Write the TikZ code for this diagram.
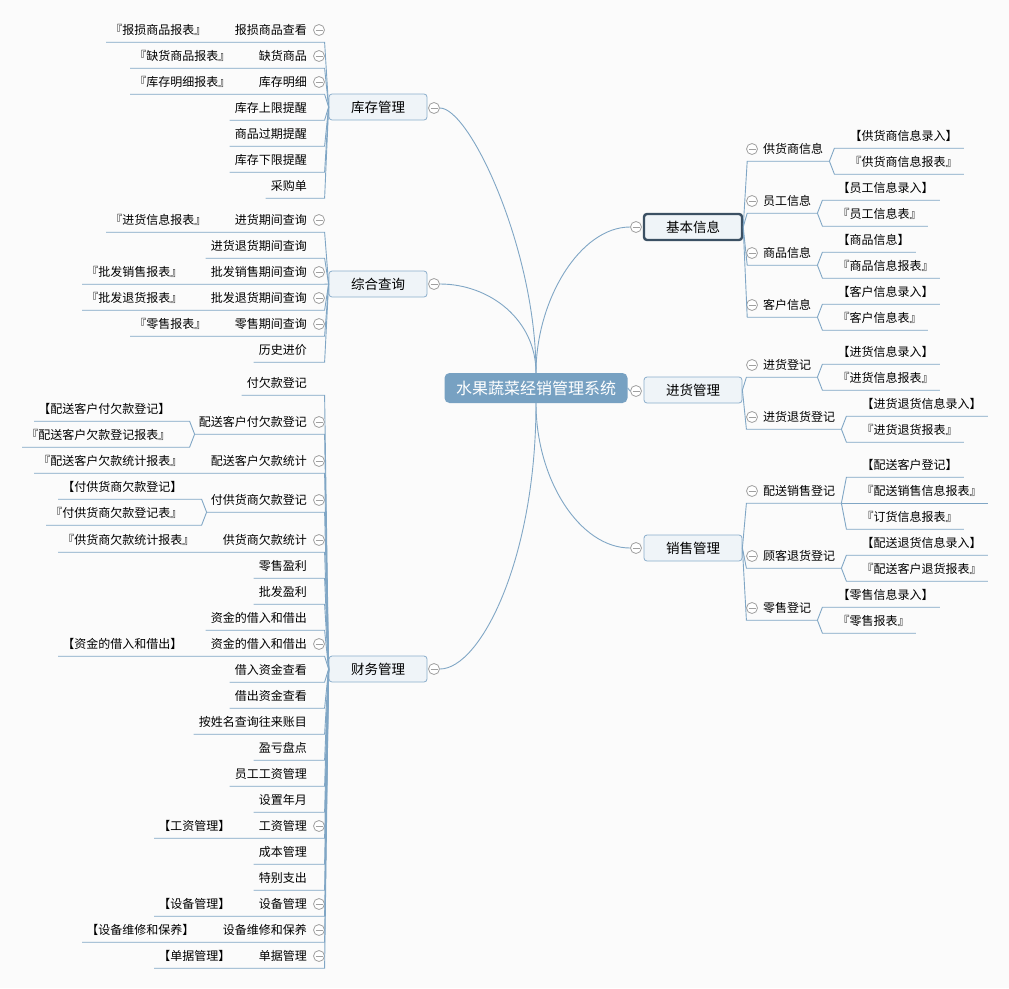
\documentclass[tikz,border=0pt]{standalone}
\usepackage{fontspec}
\setmainfont{Noto Sans CJK SC}
\usetikzlibrary{calc}
\definecolor{bgcol}{RGB}{251,251,251}
\definecolor{linkcol}{RGB}{128,166,197}
\definecolor{rootcol}{RGB}{119,161,194}
\definecolor{topicfill}{RGB}{239,244,248}
\definecolor{topicline}{RGB}{138,174,203}
\definecolor{selline}{RGB}{59,80,99}
\definecolor{foldcol}{RGB}{160,160,160}

\begin{document}
\begin{tikzpicture}[x=1pt, y=-1pt,
    link/.style={draw=linkcol, line width=0.9pt},
    root/.style={fill=rootcol, rounded corners=5pt, text=white, minimum width=183pt,
      minimum height=30pt, inner sep=0pt, font=\fontsize{16}{18}\selectfont},
    topic/.style={draw=topicline, fill=topicfill, rounded corners=3pt, minimum width=98pt,
      minimum height=26pt, inner sep=0pt, line width=0.8pt, font=\fontsize{13.5}{16}\selectfont},
    leaf/.style={inner xsep=0pt, inner ysep=6pt, text height=10pt, text depth=2pt,
      font=\fontsize{12}{14}\selectfont},
    fold/.style={circle, draw=foldcol, fill=white, line width=0.8pt, minimum size=11pt, inner sep=0pt,
      path picture={\draw[foldcol, line width=0.8pt] ([xshift=2pt]path picture bounding box.west)
        -- ([xshift=-2pt]path picture bounding box.east);}}]
    \pgfmathsetmacro{\lx}{307}
    \pgfmathsetmacro{\lf}{319}
    \pgfmathsetmacro{\rx}{763}
    \pgfmathsetmacro{\rf}{752}
    \fill[bgcol] (0,0) rectangle (1009,988);
    \useasboundingbox (0,0) rectangle (1009,988);
    % centre and main topics
    \node[root] (sys) at (536,388) {水果蔬菜经销管理系统};
    \node[topic] (kc) at (378,107) {库存管理};
    \node[topic] (zh) at (378,284) {综合查询};
    \node[topic] (cw) at (378,669) {财务管理};
    \node[topic, draw=selline, line width=2.4pt] (jb) at (693,227) {基本信息};
    \node[topic] (jh) at (693,390) {进货管理};
    \node[topic] (xs) at (693,548) {销售管理};
    \node[fold] (kcf) at (434,108) {};
    \node[fold] (zhf) at (434,284) {};
    \node[fold] (cwf) at (434,669) {};
    \node[fold] (jbf) at (636,227) {};
    \node[fold] (jhf) at (636,391) {};
    \node[fold] (xsf) at (636,548) {};
    \draw[link] (sys.north) .. controls (536,250) and (470,108) .. (kcf.east);
    \draw[link] (sys.north) .. controls (536,320) and (490,284) .. (zhf.east);
    \draw[link] (sys.north) .. controls (536,300) and (580,227) .. (jbf.west);
    \draw[link] (sys.east) -- (jhf.west);
    \draw[link] (sys.south) .. controls (536,480) and (580,548) .. (xsf.west);
    \draw[link] (sys.south) .. controls (536,560) and (480,669) .. (cwf.east);
    % 库存管理
    \node[leaf, anchor=east] (kc1) at (\lx,30) {报损商品查看};
    \node[leaf, anchor=east] (kc1a) at ($(kc1.west)+(-28,0)$) {『报损商品报表』};
    \node[fold] (kc1f) at (\lf,30) {};
    \node[leaf, anchor=east] (kc2) at (\lx,56) {缺货商品};
    \node[leaf, anchor=east] (kc2a) at ($(kc2.west)+(-28,0)$) {『缺货商品报表』};
    \node[fold] (kc2f) at (\lf,56) {};
    \node[leaf, anchor=east] (kc3) at (\lx,82) {库存明细};
    \node[leaf, anchor=east] (kc3a) at ($(kc3.west)+(-28,0)$) {『库存明细报表』};
    \node[fold] (kc3f) at (\lf,82) {};
    \node[leaf, anchor=east] (kc4) at (\lx,108) {库存上限提醒};
    \node[leaf, anchor=east] (kc5) at (\lx,134) {商品过期提醒};
    \node[leaf, anchor=east] (kc6) at (\lx,160) {库存下限提醒};
    \node[leaf, anchor=east] (kc7) at (\lx,186) {采购单};
    \draw[link] (kc.west) -- ([xshift=-4pt]kc.west |- kc1.south) -- ([xshift=-4pt]kc1a.south west);
    \draw[link] (kc.west) -- ([xshift=-4pt]kc.west |- kc2.south) -- ([xshift=-4pt]kc2a.south west);
    \draw[link] (kc.west) -- ([xshift=-4pt]kc.west |- kc3.south) -- ([xshift=-4pt]kc3a.south west);
    \draw[link] (kc.west) -- ([xshift=-4pt]kc.west |- kc4.south) -- ([xshift=-5pt]kc4.south west);
    \draw[link] (kc.west) -- ([xshift=-4pt]kc.west |- kc5.south) -- ([xshift=-5pt]kc5.south west);
    \draw[link] (kc.west) -- ([xshift=-4pt]kc.west |- kc6.south) -- ([xshift=-5pt]kc6.south west);
    \draw[link] (kc.west) -- ([xshift=-4pt]kc.west |- kc7.south) -- ([xshift=-5pt]kc7.south west);
    % 综合查询
    \node[leaf, anchor=east] (zh1) at (\lx,220) {进货期间查询};
    \node[leaf, anchor=east] (zh1a) at ($(zh1.west)+(-28,0)$) {『进货信息报表』};
    \node[fold] (zh1f) at (\lf,220) {};
    \node[leaf, anchor=east] (zh2) at (\lx,246) {进货退货期间查询};
    \node[leaf, anchor=east] (zh3) at (\lx,272) {批发销售期间查询};
    \node[leaf, anchor=east] (zh3a) at ($(zh3.west)+(-28,0)$) {『批发销售报表』};
    \node[fold] (zh3f) at (\lf,272) {};
    \node[leaf, anchor=east] (zh4) at (\lx,298) {批发退货期间查询};
    \node[leaf, anchor=east] (zh4a) at ($(zh4.west)+(-28,0)$) {『批发退货报表』};
    \node[fold] (zh4f) at (\lf,298) {};
    \node[leaf, anchor=east] (zh5) at (\lx,324) {零售期间查询};
    \node[leaf, anchor=east] (zh5a) at ($(zh5.west)+(-28,0)$) {『零售报表』};
    \node[fold] (zh5f) at (\lf,324) {};
    \node[leaf, anchor=east] (zh6) at (\lx,350) {历史进价};
    \draw[link] (zh.west) -- ([xshift=-4pt]zh.west |- zh1.south) -- ([xshift=-4pt]zh1a.south west);
    \draw[link] (zh.west) -- ([xshift=-4pt]zh.west |- zh2.south) -- ([xshift=-5pt]zh2.south west);
    \draw[link] (zh.west) -- ([xshift=-4pt]zh.west |- zh3.south) -- ([xshift=-4pt]zh3a.south west);
    \draw[link] (zh.west) -- ([xshift=-4pt]zh.west |- zh4.south) -- ([xshift=-4pt]zh4a.south west);
    \draw[link] (zh.west) -- ([xshift=-4pt]zh.west |- zh5.south) -- ([xshift=-4pt]zh5a.south west);
    \draw[link] (zh.west) -- ([xshift=-4pt]zh.west |- zh6.south) -- ([xshift=-5pt]zh6.south west);
    % 财务管理
    \node[leaf, anchor=east] (cw1) at (\lx,383) {付欠款登记};
    \node[leaf, anchor=east] (cw2) at (\lx,422) {配送客户付欠款登记};
    \node[leaf, anchor=east] (cw2a) at ($(cw2.west)+(-28,-13)$) {【配送客户付欠款登记】};
    \node[leaf, anchor=east] (cw2b) at ($(cw2.west)+(-28,13)$) {『配送客户欠款登记报表』};
    \node[fold] (cw2f) at (\lf,422) {};
    \node[leaf, anchor=east] (cw3) at (\lx,461) {配送客户欠款统计};
    \node[leaf, anchor=east] (cw3a) at ($(cw3.west)+(-28,0)$) {『配送客户欠款统计报表』};
    \node[fold] (cw3f) at (\lf,461) {};
    \node[leaf, anchor=east] (cw4) at (\lx,500) {付供货商欠款登记};
    \node[leaf, anchor=east] (cw4a) at ($(cw4.west)+(-28,-13)$) {【付供货商欠款登记】};
    \node[leaf, anchor=east] (cw4b) at ($(cw4.west)+(-28,13)$) {『付供货商欠款登记表』};
    \node[fold] (cw4f) at (\lf,500) {};
    \node[leaf, anchor=east] (cw5) at (\lx,540) {供货商欠款统计};
    \node[leaf, anchor=east] (cw5a) at ($(cw5.west)+(-28,0)$) {『供货商欠款统计报表』};
    \node[fold] (cw5f) at (\lf,540) {};
    \node[leaf, anchor=east] (cw6) at (\lx,566) {零售盈利};
    \node[leaf, anchor=east] (cw7) at (\lx,592) {批发盈利};
    \node[leaf, anchor=east] (cw8) at (\lx,618) {资金的借入和借出};
    \node[leaf, anchor=east] (cw9) at (\lx,644) {资金的借入和借出};
    \node[leaf, anchor=east] (cw9a) at ($(cw9.west)+(-28,0)$) {【资金的借入和借出】};
    \node[fold] (cw9f) at (\lf,644) {};
    \node[leaf, anchor=east] (cw10) at (\lx,670) {借入资金查看};
    \node[leaf, anchor=east] (cw11) at (\lx,696) {借出资金查看};
    \node[leaf, anchor=east] (cw12) at (\lx,722) {按姓名查询往来账目};
    \node[leaf, anchor=east] (cw13) at (\lx,748) {盈亏盘点};
    \node[leaf, anchor=east] (cw14) at (\lx,774) {员工工资管理};
    \node[leaf, anchor=east] (cw15) at (\lx,800) {设置年月};
    \node[leaf, anchor=east] (cw16) at (\lx,826) {工资管理};
    \node[leaf, anchor=east] (cw16a) at ($(cw16.west)+(-28,0)$) {【工资管理】};
    \node[fold] (cw16f) at (\lf,826) {};
    \node[leaf, anchor=east] (cw17) at (\lx,852) {成本管理};
    \node[leaf, anchor=east] (cw18) at (\lx,878) {特别支出};
    \node[leaf, anchor=east] (cw19) at (\lx,904) {设备管理};
    \node[leaf, anchor=east] (cw19a) at ($(cw19.west)+(-28,0)$) {【设备管理】};
    \node[fold] (cw19f) at (\lf,904) {};
    \node[leaf, anchor=east] (cw20) at (\lx,930) {设备维修和保养};
    \node[leaf, anchor=east] (cw20a) at ($(cw20.west)+(-28,0)$) {【设备维修和保养】};
    \node[fold] (cw20f) at (\lf,930) {};
    \node[leaf, anchor=east] (cw21) at (\lx,956) {单据管理};
    \node[leaf, anchor=east] (cw21a) at ($(cw21.west)+(-28,0)$) {【单据管理】};
    \node[fold] (cw21f) at (\lf,956) {};
    \draw[link] (cw.west) -- ([xshift=-4pt]cw.west |- cw1.south) -- ([xshift=-5pt]cw1.south west);
    \draw[link] (cw.west) -- ([xshift=-4pt]cw.west |- cw2.south) -- ([xshift=-4pt]cw2.south west) coordinate (cw2c);
    \draw[link] (cw2c) -- ([xshift=-9pt]cw2.south west |- cw2a.south) -- ([xshift=-4pt]cw2a.south west);
    \draw[link] (cw2c) -- ([xshift=-9pt]cw2.south west |- cw2b.south) -- ([xshift=-4pt]cw2b.south west);
    \draw[link] (cw.west) -- ([xshift=-4pt]cw.west |- cw3.south) -- ([xshift=-4pt]cw3a.south west);
    \draw[link] (cw.west) -- ([xshift=-4pt]cw.west |- cw4.south) -- ([xshift=-4pt]cw4.south west) coordinate (cw4c);
    \draw[link] (cw4c) -- ([xshift=-9pt]cw4.south west |- cw4a.south) -- ([xshift=-4pt]cw4a.south west);
    \draw[link] (cw4c) -- ([xshift=-9pt]cw4.south west |- cw4b.south) -- ([xshift=-4pt]cw4b.south west);
    \draw[link] (cw.west) -- ([xshift=-4pt]cw.west |- cw5.south) -- ([xshift=-4pt]cw5a.south west);
    \draw[link] (cw.west) -- ([xshift=-4pt]cw.west |- cw6.south) -- ([xshift=-5pt]cw6.south west);
    \draw[link] (cw.west) -- ([xshift=-4pt]cw.west |- cw7.south) -- ([xshift=-5pt]cw7.south west);
    \draw[link] (cw.west) -- ([xshift=-4pt]cw.west |- cw8.south) -- ([xshift=-5pt]cw8.south west);
    \draw[link] (cw.west) -- ([xshift=-4pt]cw.west |- cw9.south) -- ([xshift=-4pt]cw9a.south west);
    \draw[link] (cw.west) -- ([xshift=-4pt]cw.west |- cw10.south) -- ([xshift=-5pt]cw10.south west);
    \draw[link] (cw.west) -- ([xshift=-4pt]cw.west |- cw11.south) -- ([xshift=-5pt]cw11.south west);
    \draw[link] (cw.west) -- ([xshift=-4pt]cw.west |- cw12.south) -- ([xshift=-5pt]cw12.south west);
    \draw[link] (cw.west) -- ([xshift=-4pt]cw.west |- cw13.south) -- ([xshift=-5pt]cw13.south west);
    \draw[link] (cw.west) -- ([xshift=-4pt]cw.west |- cw14.south) -- ([xshift=-5pt]cw14.south west);
    \draw[link] (cw.west) -- ([xshift=-4pt]cw.west |- cw15.south) -- ([xshift=-5pt]cw15.south west);
    \draw[link] (cw.west) -- ([xshift=-4pt]cw.west |- cw16.south) -- ([xshift=-4pt]cw16a.south west);
    \draw[link] (cw.west) -- ([xshift=-4pt]cw.west |- cw17.south) -- ([xshift=-5pt]cw17.south west);
    \draw[link] (cw.west) -- ([xshift=-4pt]cw.west |- cw18.south) -- ([xshift=-5pt]cw18.south west);
    \draw[link] (cw.west) -- ([xshift=-4pt]cw.west |- cw19.south) -- ([xshift=-4pt]cw19a.south west);
    \draw[link] (cw.west) -- ([xshift=-4pt]cw.west |- cw20.south) -- ([xshift=-4pt]cw20a.south west);
    \draw[link] (cw.west) -- ([xshift=-4pt]cw.west |- cw21.south) -- ([xshift=-4pt]cw21a.south west);
    % 基本信息
    \node[leaf, anchor=west] (jb1) at (\rx,149) {供货商信息};
    \node[leaf, anchor=west] (jb1a) at ($(jb1.east)+(26,-13)$) {【供货商信息录入】};
    \node[leaf, anchor=west] (jb1b) at ($(jb1.east)+(26,13)$) {『供货商信息报表』};
    \node[fold] (jb1f) at (\rf,149) {};
    \node[leaf, anchor=west] (jb2) at (\rx,201) {员工信息};
    \node[leaf, anchor=west] (jb2a) at ($(jb2.east)+(26,-13)$) {【员工信息录入】};
    \node[leaf, anchor=west] (jb2b) at ($(jb2.east)+(26,13)$) {『员工信息表』};
    \node[fold] (jb2f) at (\rf,201) {};
    \node[leaf, anchor=west] (jb3) at (\rx,253) {商品信息};
    \node[leaf, anchor=west] (jb3a) at ($(jb3.east)+(26,-13)$) {【商品信息】};
    \node[leaf, anchor=west] (jb3b) at ($(jb3.east)+(26,13)$) {『商品信息报表』};
    \node[fold] (jb3f) at (\rf,253) {};
    \node[leaf, anchor=west] (jb4) at (\rx,305) {客户信息};
    \node[leaf, anchor=west] (jb4a) at ($(jb4.east)+(26,-13)$) {【客户信息录入】};
    \node[leaf, anchor=west] (jb4b) at ($(jb4.east)+(26,13)$) {『客户信息表』};
    \node[fold] (jb4f) at (\rf,305) {};
    \draw[link] (jb.east) -- ([xshift=4pt]jb.east |- jb1.south) -- ([xshift=6pt]jb1.south east) coordinate (jb1c);
    \draw[link] (jb1c) -- ([xshift=11pt]jb1.south east |- jb1a.south) -- ([xshift=6pt]jb1a.south east);
    \draw[link] (jb1c) -- ([xshift=11pt]jb1.south east |- jb1b.south) -- ([xshift=6pt]jb1b.south east);
    \draw[link] (jb.east) -- ([xshift=4pt]jb.east |- jb2.south) -- ([xshift=6pt]jb2.south east) coordinate (jb2c);
    \draw[link] (jb2c) -- ([xshift=11pt]jb2.south east |- jb2a.south) -- ([xshift=6pt]jb2a.south east);
    \draw[link] (jb2c) -- ([xshift=11pt]jb2.south east |- jb2b.south) -- ([xshift=6pt]jb2b.south east);
    \draw[link] (jb.east) -- ([xshift=4pt]jb.east |- jb3.south) -- ([xshift=6pt]jb3.south east) coordinate (jb3c);
    \draw[link] (jb3c) -- ([xshift=11pt]jb3.south east |- jb3a.south) -- ([xshift=6pt]jb3a.south east);
    \draw[link] (jb3c) -- ([xshift=11pt]jb3.south east |- jb3b.south) -- ([xshift=6pt]jb3b.south east);
    \draw[link] (jb.east) -- ([xshift=4pt]jb.east |- jb4.south) -- ([xshift=6pt]jb4.south east) coordinate (jb4c);
    \draw[link] (jb4c) -- ([xshift=11pt]jb4.south east |- jb4a.south) -- ([xshift=6pt]jb4a.south east);
    \draw[link] (jb4c) -- ([xshift=11pt]jb4.south east |- jb4b.south) -- ([xshift=6pt]jb4b.south east);
    % 进货管理
    \node[leaf, anchor=west] (jh1) at (\rx,365) {进货登记};
    \node[leaf, anchor=west] (jh1a) at ($(jh1.east)+(26,-13)$) {【进货信息录入】};
    \node[leaf, anchor=west] (jh1b) at ($(jh1.east)+(26,13)$) {『进货信息报表』};
    \node[fold] (jh1f) at (\rf,365) {};
    \node[leaf, anchor=west] (jh2) at (\rx,417) {进货退货登记};
    \node[leaf, anchor=west] (jh2a) at ($(jh2.east)+(26,-13)$) {【进货退货信息录入】};
    \node[leaf, anchor=west] (jh2b) at ($(jh2.east)+(26,13)$) {『进货退货报表』};
    \node[fold] (jh2f) at (\rf,417) {};
    \draw[link] (jh.east) -- ([xshift=4pt]jh.east |- jh1.south) -- ([xshift=6pt]jh1.south east) coordinate (jh1c);
    \draw[link] (jh1c) -- ([xshift=11pt]jh1.south east |- jh1a.south) -- ([xshift=6pt]jh1a.south east);
    \draw[link] (jh1c) -- ([xshift=11pt]jh1.south east |- jh1b.south) -- ([xshift=6pt]jh1b.south east);
    \draw[link] (jh.east) -- ([xshift=4pt]jh.east |- jh2.south) -- ([xshift=6pt]jh2.south east) coordinate (jh2c);
    \draw[link] (jh2c) -- ([xshift=11pt]jh2.south east |- jh2a.south) -- ([xshift=6pt]jh2a.south east);
    \draw[link] (jh2c) -- ([xshift=11pt]jh2.south east |- jh2b.south) -- ([xshift=6pt]jh2b.south east);
    % 销售管理
    \node[leaf, anchor=west] (xs1) at (\rx,491) {配送销售登记};
    \node[leaf, anchor=west] (xs1a) at ($(xs1.east)+(26,-26)$) {【配送客户登记】};
    \node[leaf, anchor=west] (xs1b) at ($(xs1.east)+(26,0)$) {『配送销售信息报表』};
    \node[leaf, anchor=west] (xs1c) at ($(xs1.east)+(26,26)$) {『订货信息报表』};
    \node[fold] (xs1f) at (\rf,491) {};
    \node[leaf, anchor=west] (xs2) at (\rx,556) {顾客退货登记};
    \node[leaf, anchor=west] (xs2a) at ($(xs2.east)+(26,-13)$) {【配送退货信息录入】};
    \node[leaf, anchor=west] (xs2b) at ($(xs2.east)+(26,13)$) {『配送客户退货报表』};
    \node[fold] (xs2f) at (\rf,556) {};
    \node[leaf, anchor=west] (xs3) at (\rx,608) {零售登记};
    \node[leaf, anchor=west] (xs3a) at ($(xs3.east)+(26,-13)$) {【零售信息录入】};
    \node[leaf, anchor=west] (xs3b) at ($(xs3.east)+(26,13)$) {『零售报表』};
    \node[fold] (xs3f) at (\rf,608) {};
    \draw[link] (xs.east) -- ([xshift=4pt]xs.east |- xs1.south) -- ([xshift=6pt]xs1.south east) coordinate (xs1j);
    \draw[link] (xs1j) -- ([xshift=11pt]xs1.south east |- xs1a.south) -- ([xshift=6pt]xs1a.south east);
    \draw[link] (xs1j) -- ([xshift=11pt]xs1.south east |- xs1b.south) -- ([xshift=6pt]xs1b.south east);
    \draw[link] (xs1j) -- ([xshift=11pt]xs1.south east |- xs1c.south) -- ([xshift=6pt]xs1c.south east);
    \draw[link] (xs.east) -- ([xshift=4pt]xs.east |- xs2.south) -- ([xshift=6pt]xs2.south east) coordinate (xs2j);
    \draw[link] (xs2j) -- ([xshift=11pt]xs2.south east |- xs2a.south) -- ([xshift=6pt]xs2a.south east);
    \draw[link] (xs2j) -- ([xshift=11pt]xs2.south east |- xs2b.south) -- ([xshift=6pt]xs2b.south east);
    \draw[link] (xs.east) -- ([xshift=4pt]xs.east |- xs3.south) -- ([xshift=6pt]xs3.south east) coordinate (xs3j);
    \draw[link] (xs3j) -- ([xshift=11pt]xs3.south east |- xs3a.south) -- ([xshift=6pt]xs3a.south east);
    \draw[link] (xs3j) -- ([xshift=11pt]xs3.south east |- xs3b.south) -- ([xshift=6pt]xs3b.south east);
  \end{tikzpicture}
\end{document}
